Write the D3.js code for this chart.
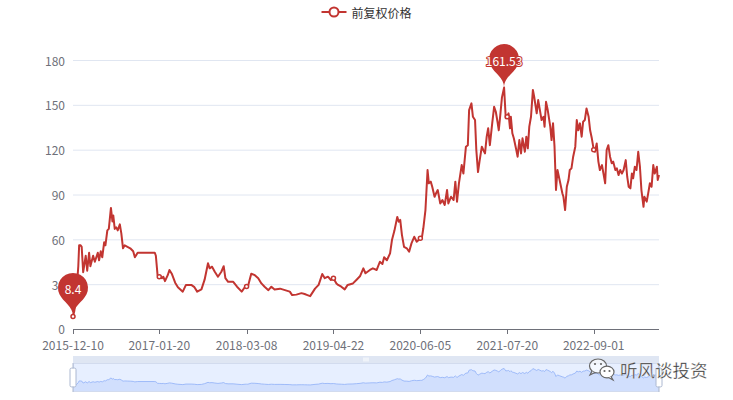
<!DOCTYPE html>
<html><head><meta charset="utf-8">
<script src="https://cdn.jsdelivr.net/npm/d3@7/dist/d3.min.js"></script>
<style>body{margin:0;background:#fff}svg{display:block}</style>
</head><body>
<svg id="c" width="733" height="400"></svg>
<script>
const seriesName = '前复权价格';
const watermarkText = '听风谈投资';
const dates = [
'2015-12-10','2015-12-16','2015-12-22','2015-12-28','2016-01-04','2016-01-08','2016-01-15','2016-01-20','2016-01-27','2016-02-08',
'2016-02-15','2016-02-24','2016-03-01','2016-03-14','2016-03-22','2016-04-05','2016-04-11','2016-04-19','2016-04-26','2016-05-05',
'2016-05-11','2016-05-20','2016-05-27','2016-06-06','2016-06-13','2016-06-17','2016-06-24','2016-07-01','2016-07-08','2016-07-18',
'2016-07-25','2016-08-02','2016-08-10','2016-08-23','2016-09-05','2016-09-19','2016-09-27','2016-10-10','2016-12-30','2017-01-04',
'2017-01-12','2017-01-20','2017-02-01','2017-02-08','2017-02-16','2017-03-01','2017-03-09','2017-03-20','2017-04-05','2017-04-18',
'2017-05-11','2017-05-26','2017-06-20','2017-07-05','2017-07-18','2017-08-07','2017-08-22','2017-09-07','2017-09-15','2017-09-26',
'2017-10-09','2017-10-24','2017-11-09','2017-11-20','2017-11-28','2017-12-11','2018-01-04','2018-01-22','2018-02-13','2018-03-01',
'2018-03-08','2018-03-14','2018-03-30','2018-04-16','2018-05-02','2018-05-17','2018-06-01','2018-06-19','2018-07-03','2018-07-18',
'2018-08-13','2018-09-05','2018-09-28','2018-10-09','2018-10-29','2018-11-22','2018-12-07','2018-12-20','2019-01-02','2019-01-25',
'2019-02-11','2019-02-28','2019-03-12','2019-03-27','2019-04-10','2019-04-22','2019-05-06','2019-05-14','2019-05-29','2019-06-14',
'2019-06-28','2019-07-23','2019-08-08','2019-08-26','2019-09-10','2019-09-20','2019-10-11','2019-10-25','2019-11-12','2019-11-27',
'2019-12-09','2019-12-17','2019-12-30','2020-01-14','2020-01-23','2020-02-04','2020-02-17','2020-02-24','2020-03-02','2020-03-10',
'2020-03-20','2020-04-02','2020-04-13','2020-04-24','2020-05-07','2020-05-19','2020-06-05','2020-06-12','2020-06-19','2020-06-29',
'2020-07-09','2020-07-15','2020-07-24','2020-07-31','2020-08-11','2020-08-18','2020-08-26','2020-09-07','2020-09-17','2020-09-28',
'2020-10-09','2020-10-15','2020-10-28','2020-11-09','2020-11-17','2020-11-25','2020-12-04','2020-12-17','2020-12-25','2021-01-06',
'2021-01-15','2021-01-21','2021-02-01','2021-02-08','2021-02-18','2021-02-24','2021-03-04','2021-03-12','2021-03-22','2021-03-29',
'2021-04-06','2021-04-14','2021-04-21','2021-04-29','2021-05-10','2021-05-19','2021-05-27','2021-06-04','2021-06-10','2021-06-17',
'2021-06-25','2021-07-05','2021-07-13','2021-07-20','2021-07-26','2021-08-02','2021-08-06','2021-08-13','2021-08-20','2021-08-30',
'2021-09-07','2021-09-15','2021-09-23','2021-09-30','2021-10-11','2021-10-18','2021-10-25','2021-11-01','2021-11-09','2021-11-18',
'2021-11-24','2021-12-06','2021-12-13','2021-12-21','2021-12-29','2022-01-07','2022-01-12','2022-01-19','2022-01-27','2022-02-08',
'2022-02-14','2022-02-21','2022-02-28','2022-03-07','2022-03-14','2022-03-24','2022-04-06','2022-04-11','2022-04-19','2022-04-27',
'2022-05-05','2022-05-11','2022-05-19','2022-05-27','2022-06-06','2022-06-13','2022-06-20','2022-06-28','2022-07-06','2022-07-13',
'2022-07-21','2022-07-29','2022-08-08','2022-08-15','2022-08-23','2022-09-01','2022-09-07','2022-09-15','2022-09-23','2022-09-30',
'2022-10-10','2022-10-17','2022-10-25','2022-11-01','2022-11-09','2022-11-17','2022-11-25','2022-12-02','2022-12-12','2022-12-19',
'2022-12-27','2023-01-04','2023-01-12','2023-01-20','2023-01-30','2023-02-06','2023-02-13','2023-02-21','2023-02-28','2023-03-06',
'2023-03-14','2023-03-22','2023-03-30','2023-04-07','2023-04-14','2023-04-24','2023-04-28','2023-05-09','2023-05-16','2023-05-24',
'2023-06-01','2023-06-09','2023-06-16','2023-06-26','2023-06-30','2023-07-06'
];
const prices = [
8.4,12,18,28,42,56,56,55,38,49,
39,51,42,49,45,51,46,52,48,58,
56,66,67,81,72,76,67,68,66,70,
64,54,56,55,54,52,48,51,51,49,
36,35,34,35,32,36,39.5,37,31,28,
25,29.5,29.5,28,25,26.5,33,44,40.6,41.7,
38.3,35,38.3,42,34,31.6,31.6,28.3,25,28.3,
28.5,28.3,37,36,34,30.5,28.3,26,28.3,26.5,
27,26,25,22.7,23,24,23.4,22.7,22,27,
29.5,36.8,34,35,32.8,34,30.5,29.5,28.3,26.5,
29.5,30.5,32.8,35.5,40.6,37.3,39.5,40.6,39.5,45,
43.5,48,46,50.6,59.5,66,75,71.8,73,63,
55,54,51.7,57.3,61.7,58.4,60.7,61,67.4,79.6,
106.4,97.5,98.6,95.2,88.5,90.8,93,84,86.3,83,
93,84,88.5,86.3,98.6,85.2,97.5,109.7,104,122,
123,146.5,151,142,139.8,119.8,105,113,122,119.8,
117.5,128.7,134.3,123,137.6,148.7,145.4,138.7,133,143,
155,161.53,141,142,144.3,134.3,142,131,127.6,120.9,
115.3,126.4,117.5,127.6,118.6,128.7,120.9,135.4,142,160,
155.4,144.3,153.2,146.5,139.8,142,135.4,152,146.5,135.4,
126.4,137.6,122,93,106.4,99.7,90.8,88.5,79.6,95.2,
99.7,106.4,107.5,115.3,122,139.8,133,137.6,128.7,138.7,
139.8,147.6,142,133,127.6,120,118.6,124.2,112,106.4,
109.7,104,97.5,119.8,123,115.3,110.9,112,106.4,107.5,
103,106.4,104,106.4,113,101.9,95.2,94.1,104,100.8,
108.6,106.4,118.6,108.6,93,81.8,88.5,85.2,90.8,97.5,
95.2,109.7,104,108.6,99.7,103
];
const xTickLabels = ['2015-12-10','2017-01-20','2018-03-08','2019-04-22','2020-06-05','2021-07-20','2022-09-01'];
const yTicks = [0,30,60,90,120,150,180];

const RED = '#c23531';
const FONT = '"Noto Sans CJK SC","Noto Sans",sans-serif';
const parse = d3.timeParse('%Y-%m-%d');
const data = dates.map((d,i)=>({date:parse(d), key:d, value:prices[i]}));

const L = 73, R = 659, T = 60, B = 329;
const x = d3.scaleTime().domain([data[0].date, data[data.length-1].date]).range([L, R]);
const y = d3.scaleLinear().domain([0, 180]).range([B, T]);

const svg = d3.select('#c').style('font-family', FONT);

// grid lines
svg.append('g').selectAll('line').data(yTicks.filter(t=>t>0)).join('line')
  .attr('x1', L).attr('x2', R).attr('y1', d=>y(d)+0.5).attr('y2', d=>y(d)+0.5)
  .attr('stroke', '#E0E6F1').attr('stroke-width', 1);

// y labels
svg.append('g').selectAll('text').data(yTicks).join('text')
  .attr('x', L-8).attr('y', d=>y(d) - (d===0 ? 1 : 0)).attr('text-anchor','end').attr('dominant-baseline','central')
  .attr('fill','#6E7079').attr('font-size',12).text(d=>d);

// x axis
const xAxisG = svg.append('g').attr('transform', `translate(0,${B})`);
xAxisG.append('line').attr('x1', L).attr('x2', R).attr('y1', 0.5).attr('y2', 0.5).attr('stroke', '#6E7079');
const tickDates = xTickLabels.map(parse);
xAxisG.selectAll('line.tk').data(tickDates).join('line').attr('class','tk')
  .attr('x1', d=>Math.round(x(d))+0.5).attr('x2', d=>Math.round(x(d))+0.5).attr('y1', 0).attr('y2', 5)
  .attr('stroke', '#6E7079');
xAxisG.selectAll('text').data(xTickLabels).join('text')
  .attr('x', d=>x(parse(d))).attr('y', 15.5).attr('text-anchor','middle').attr('dominant-baseline','central')
  .attr('fill','#6E7079').attr('font-size',12).text(d=>d);

// line
const line = d3.line().x(d=>x(d.date)).y(d=>y(d.value));
svg.append('path').datum(data).attr('d', line).attr('fill','none')
  .attr('stroke', RED).attr('stroke-width', 2).attr('stroke-linejoin','round');

// pin markers
function pinPath(px, py, size) {
  const w = size/5*3, h = Math.max(w, size), r = w/2;
  const dy = r*r/(h-r), cy = py - h + r + dy;
  const angle = Math.asin(dy/r), dx = Math.cos(angle)*r;
  const tanX = Math.sin(angle), tanY = Math.cos(angle);
  const cpLen = r*0.6, cpLen2 = r*0.7;
  const p = d3.path();
  p.moveTo(px-dx, cy+dy);
  p.arc(px, cy, r, Math.PI-angle, Math.PI*2+angle);
  p.bezierCurveTo(px+dx-tanX*cpLen, cy+dy+tanY*cpLen, px, py-cpLen2, px, py);
  p.bezierCurveTo(px, py-cpLen2, px-dx+tanX*cpLen, cy+dy+tanY*cpLen, px-dx, cy+dy);
  p.closePath();
  return {d: p.toString(), cy};
}
const maxD = data.reduce((a,b)=>b.value>a.value?b:a);
const minD = data.reduce((a,b)=>b.value<a.value?b:a);
[maxD, minD].forEach(d=>{
  const px = x(d.date), py = y(d.value);
  const pin = pinPath(px, py, 50);
  svg.append('path').attr('d', pin.d).attr('fill', RED);
  svg.append('text').attr('x', px).attr('y', pin.cy+1).attr('text-anchor','middle')
    .attr('dominant-baseline','central').attr('fill','#fff').attr('font-size',12)
    .attr('stroke', RED).attr('stroke-width', 2).attr('paint-order','stroke').attr('stroke-linejoin','round')
    .text(d.value);
});

// symbols at label positions
const symData = data.filter(d=>xTickLabels.includes(d.key));
svg.append('g').selectAll('circle').data(symData).join('circle')
  .attr('cx', d=>x(d.date)).attr('cy', d=>y(d.value)).attr('r', 2)
  .attr('fill','#fff').attr('stroke', RED).attr('stroke-width', 1.5);

// legend
const lg = svg.append('g');
lg.append('line').attr('x1', 321.5).attr('x2', 346.5).attr('y1', 12).attr('y2', 12).attr('stroke', RED).attr('stroke-width', 2);
lg.append('circle').attr('cx', 334).attr('cy', 12).attr('r', 4.5).attr('fill','#fff').attr('stroke', RED).attr('stroke-width', 2);
lg.append('text').attr('x', 351.5).attr('y', 12).attr('dominant-baseline','central')
  .attr('fill','#333').attr('font-size',12).text(seriesName);

// dataZoom slider
const sT = 363, sB = 392, mT = 356;
const sz = svg.append('g');
sz.append('rect').attr('x', L).attr('y', mT).attr('width', R-L).attr('height', sT-mT).attr('fill', '#D2DBEE').attr('opacity', 0.7);
sz.append('rect').attr('x', L).attr('y', sT).attr('width', R-L).attr('height', sB-sT).attr('fill', 'rgba(135,175,255,0.2)');
const ext = d3.extent(prices), delta = (ext[1]-ext[0])*0.3;
const sy = d3.scaleLinear().domain([ext[0]-delta, ext[1]+delta]).range([sB, sT]);
const area = d3.area().x(d=>x(d.date)).y0(sB).y1(d=>sy(d.value));
sz.append('path').datum(data).attr('d', area).attr('fill', '#8fb0f7').attr('opacity', 0.25);
sz.append('path').datum(data).attr('d', d3.line().x(d=>x(d.date)).y(d=>sy(d.value)))
  .attr('fill','none').attr('stroke','#8fb0f7').attr('stroke-width', 0.8);
sz.append('rect').attr('x', L+0.5).attr('y', sT+0.5).attr('width', R-L-1).attr('height', sB-sT-1)
  .attr('fill','none').attr('stroke','#d2dbee');
// move handle icon
const mx = (L+R)/2;
[-2,0,2].forEach(o=>sz.append('rect').attr('x', mx+o-0.5).attr('y', mT+1.5).attr('width',1).attr('height',4).attr('fill','#fff'));
// handles
[L, R].forEach(hx=>{
  const cyh = (sT+sB)/2;
  sz.append('line').attr('x1', hx).attr('x2', hx).attr('y1', sT).attr('y2', cyh-9.4).attr('stroke','#ACB8D1');
  sz.append('line').attr('x1', hx).attr('x2', hx).attr('y1', cyh+9.4).attr('y2', sB).attr('stroke','#ACB8D1');
  sz.append('rect').attr('x', hx-3).attr('y', cyh-9.4).attr('width', 6).attr('height', 18.8).attr('rx', 1.5)
    .attr('fill','#fff').attr('stroke','#ACB8D1');
});

// watermark
const wm = svg.append('g');
wm.append('ellipse').attr('cx', 598).attr('cy', 366).attr('rx', 8.5).attr('ry', 7).attr('fill','rgba(255,255,255,0.6)').attr('stroke','#666').attr('stroke-width',1.2);
wm.append('path').attr('d','M592,371 L590,375 L595,372.5').attr('fill','rgba(255,255,255,0.6)').attr('stroke','#666').attr('stroke-width',1.2);
wm.append('ellipse').attr('cx', 607).attr('cy', 372).attr('rx', 7).attr('ry', 5.8).attr('fill','#fff').attr('stroke','#666').attr('stroke-width',1.2);
wm.append('path').attr('d','M611,376.5 L613,380 L608.5,377.5').attr('fill','#fff').attr('stroke','#666').attr('stroke-width',1.2);
[[595,364],[601,364],[604.5,371],[609.5,371]].forEach(p=>wm.append('circle').attr('cx',p[0]).attr('cy',p[1]).attr('r',1.1).attr('fill','#666'));
wm.append('text').attr('x', 620).attr('y', 369).attr('dominant-baseline','central')
  .attr('font-size', 17.5).attr('fill','#3a3a3a').attr('stroke','rgba(255,255,255,0.6)').attr('stroke-width',0.5)
  .text(watermarkText);
</script>
</body></html>
